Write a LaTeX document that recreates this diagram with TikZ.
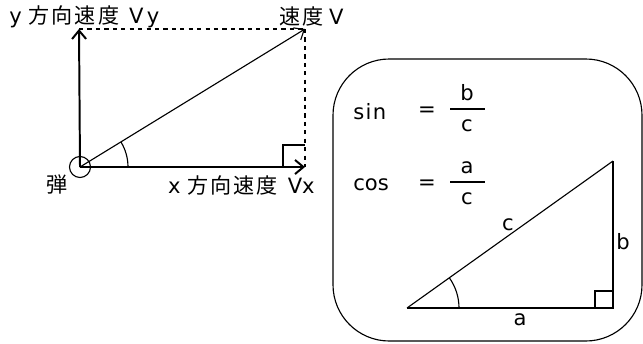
\documentclass[tikz,border=0pt]{standalone}
\usepackage{fontspec}
\setmainfont{DejaVu Sans}
\newfontfamily\jp[LetterSpace=10]{Noto Sans CJK JP}
\usetikzlibrary{arrows.meta}
\begin{document}
\begin{tikzpicture}[
    x=0.025cm, y=-0.025cm,
    every node/.style={font=\fontsize{15}{17}\selectfont, inner sep=0pt},
    axis/.style={line width=1.4pt, -{Straight Barb[length=6pt,width=10pt]}},
    guide/.style={line width=1.1pt, dashed},
    thin/.style={line width=0.8pt},
    side/.style={line width=1.4pt}
]
\useasboundingbox (0,0) rectangle (643,343);

% velocity components
\coordinate (o) at (80,167);
\coordinate (vy) at (79,29);
\coordinate (vx) at (305,167);
\coordinate (v) at (305,29);

\draw[axis] (o) -- (vy);
\draw[axis] (o) -- (vx);
\draw[guide] (vy) -- (v);
\draw[guide] (v) -- (vx);
\draw[thin, -{Straight Barb[length=6pt,width=10pt]}] (o) -- (v);
\draw[thin] (o) circle[radius=10.5];
\draw[thin] ([shift={(48,0)}]o) arc[start angle=0, end angle=-31.5, radius=48];
\draw[thin] (283,167) -- (283,145) -- (305,145);

\node[anchor=west] (lvy) at (9,17) {y {\jp 方向速度}\hspace{7pt}V\,y};
\node[anchor=west] (lv) at (279,17) {{\jp 速度}\hspace{4pt}V};
\node (lball) at (57,184) {\jp 弾};
\node[anchor=east] (lvx) at (315,185) {x {\jp 方向速度}\hspace{7pt}Vx};

% formula box
\draw[thin, rounded corners=40] (333,59) rectangle (642,341);

\node[anchor=west] (sin) at (353,112) {s\kern1pt i\kern1pt n};
\node (eq1) at (427,112) {=};
\node (nb) at (467,93) {b};
\node (dc1) at (467,126) {c};
\draw[side] (450,109) -- (485,109);

\node[anchor=west] (cos) at (353,185) {cos};
\node (eq2) at (427,185) {=};
\node (na) at (467,168) {a};
\node (dc2) at (467,199) {c};
\draw[side] (450,182) -- (485,182);

% triangle
\coordinate (ta) at (407,308);
\coordinate (tb) at (613,308);
\coordinate (tc) at (613,161);
\draw[side] (ta) -- (tb) -- (tc);
\draw[thin] (ta) -- (tc);
\draw[thin] ([shift={(52,0)}]ta) arc[start angle=0, end angle=-35.5, radius=52];
\draw[thin] (595,308) -- (595,291) -- (613,291);

\node (lc) at (508,225) {c};
\node (lb) at (623,242) {b};
\node (la) at (520,320) {a};
\end{tikzpicture}
\end{document}
